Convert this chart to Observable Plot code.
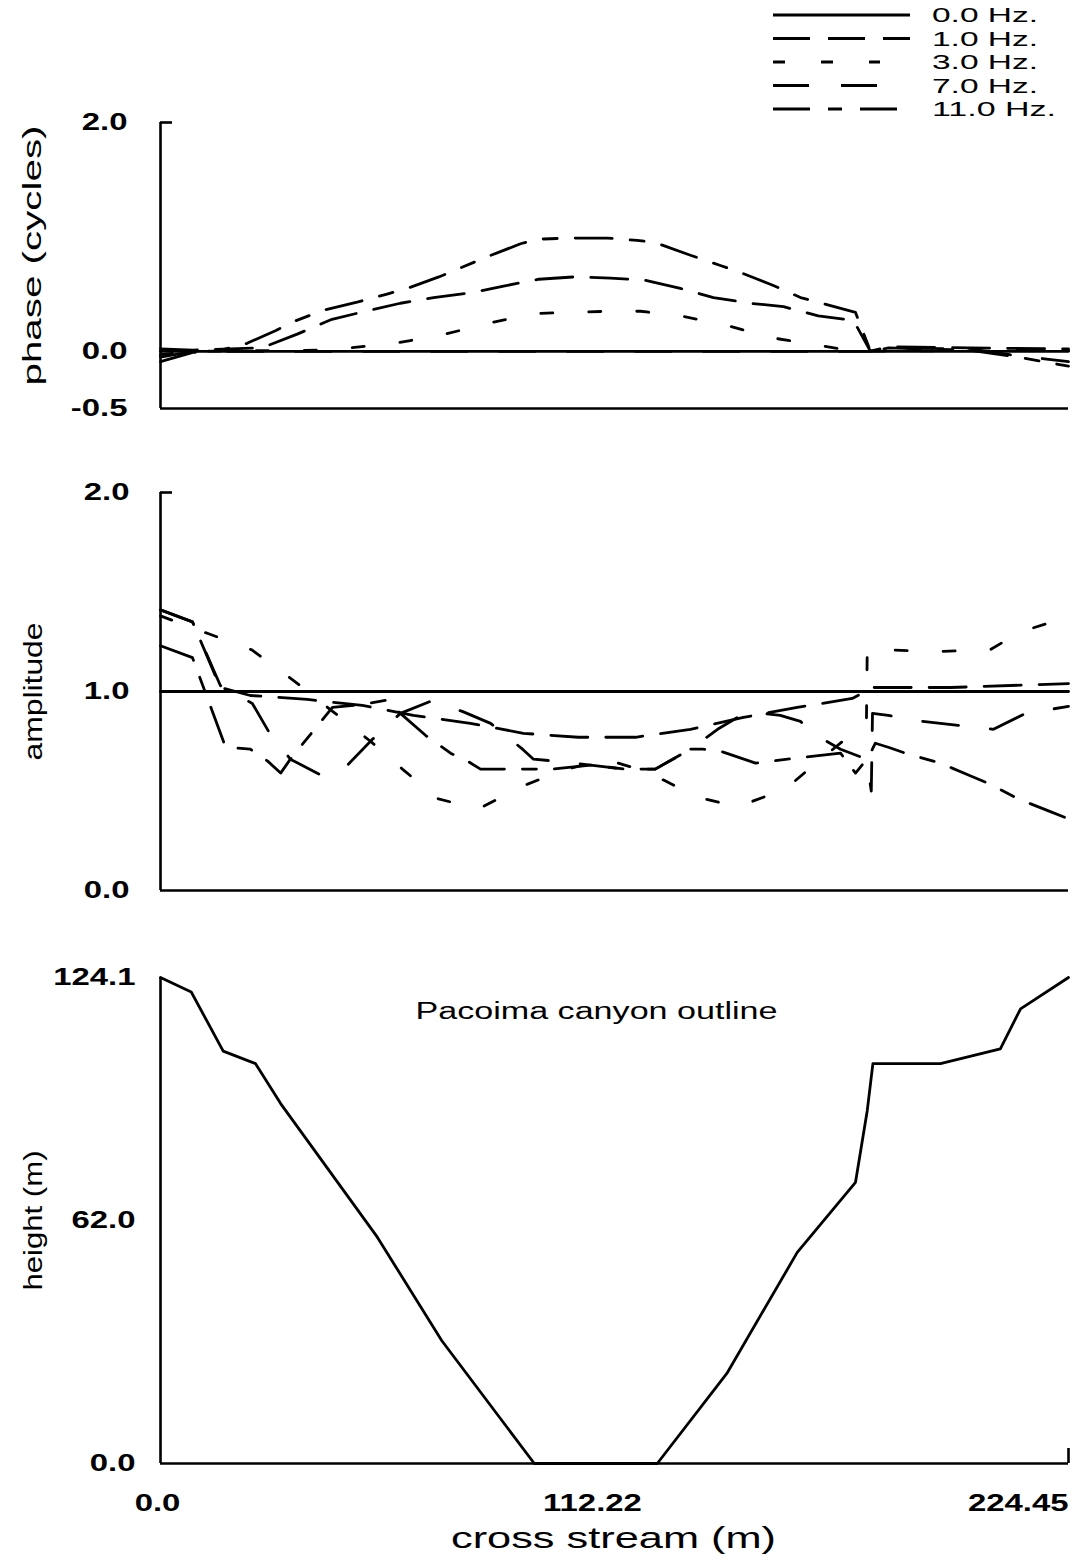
<!DOCTYPE html>
<html><head><meta charset="utf-8">
<script src="https://cdn.jsdelivr.net/npm/d3@7"></script>
<script src="https://cdn.jsdelivr.net/npm/@observablehq/plot@0.6"></script>
<style>
body{margin:0;background:#fff;}
#root{position:relative;width:1072px;height:1567px;overflow:hidden;background:#fff;}
#root svg{position:absolute;left:0;}
</style></head><body><div id="root"></div>
<script>
// ---------- data ----------
const xDomain = [0, 224.45];
const xTicks = [0, 112.22, 224.45];
const phaseTicks = [2.0, 0.0, -0.5];
const ampTicks = [2.0, 1.0, 0.0];
const heightTicks = [124.1, 62.0, 0.0];
const freqs = ["0.0 Hz.", "1.0 Hz.", "3.0 Hz.", "7.0 Hz.", "11.0 Hz."];

// phase (cycles) vs cross stream (m)
const phase0 = [[0,0],[224.45,0]];
const phase1 = [[0,0.02],[8,0.01],[25,0.03],[33.8,0.15],[42.4,0.28],[50.7,0.35],[59.3,0.42],[67.5,0.47],[76.6,0.51],[84.8,0.57],[93.5,0.63],[102.2,0.65],[111.2,0.64],[119.9,0.62],[128.5,0.55],[136.7,0.47],[145.8,0.42],[154,0.39],[162.6,0.31],[171.3,0.27],[175.5,0.0],[180,0.04],[200,0.03],[224.45,0.02]];
const phase3 = [[0,-0.03],[8,0],[40,0.01],[47,0.03],[58,0.07],[70.4,0.15],[81.6,0.25],[92.7,0.33],[101,0.34],[111,0.35],[118.6,0.35],[128.5,0.31],[139.6,0.23],[150.8,0.12],[163,0.05],[172,0.0],[224.45,0.01]];
const phase7 = [[0,-0.09],[8,-0.01],[15,0],[175,0],[180,0.03],[200,0.02],[210,-0.03],[224.45,-0.09]];
const phase11 = [[0,-0.05],[8,0],[15,0.01],[21.4,0.07],[28.4,0.18],[32.9,0.26],[40.3,0.36],[48.6,0.43],[56,0.5],[61,0.55],[68.8,0.65],[80.3,0.82],[89,0.94],[93.1,0.98],[101.3,0.99],[110.4,0.99],[117.8,0.97],[122.3,0.95],[131,0.84],[138.4,0.75],[142.5,0.7],[151.2,0.58],[158.2,0.47],[171.8,0.34],[175.5,0],[180,0.03],[200,0.01],[212,-0.05],[224.45,-0.13]];

// amplitude vs cross stream (m)
const amp0 = [[0,1],[224.45,1]];
const amp1 = [[0,1.41],[7.9,1.35],[14.8,1.02],[22.2,0.98],[36.3,0.96],[49.9,0.93],[62.5,0.88],[76.6,0.84],[89.7,0.79],[103.3,0.77],[117.4,0.77],[131,0.81],[144.1,0.87],[157.4,0.92],[171,0.965],[174.2,1.0],[175.5,1.02],[195.3,1.02],[224.45,1.04]];
const amp3 = [[0,1.38],[11.9,1.29],[22.5,1.21],[32.9,1.055],[51.9,0.75],[59.8,0.61],[68.7,0.46],[78.6,0.41],[90.2,0.53],[98.9,0.6],[109.7,0.66],[119.9,0.6],[132.7,0.47],[142.6,0.42],[154.5,0.51],[162.6,0.65],[172.3,0.81],[174.5,0.85],[174.7,1.21],[179.2,1.21],[191.1,1.2],[205.1,1.21],[212.6,1.3],[220.5,1.35],[224.45,1.37]];
const amp7 = [[0,1.41],[7.9,1.35],[14.8,1.03],[22.7,0.94],[26.7,0.8],[32.1,0.66],[39.6,0.58],[46.2,0.63],[52.4,0.76],[59.3,0.89],[66.7,0.95],[74.6,0.9],[81.6,0.84],[89.5,0.71],[92.2,0.66],[97.6,0.65],[106.3,0.63],[114.9,0.61],[122.3,0.61],[131,0.71],[137.7,0.81],[145.1,0.9],[153.2,0.88],[158.2,0.85],[161.2,0.79],[168.1,0.71],[174.5,0.66],[175.7,0.5],[176,0.89],[179.9,0.88],[188.3,0.85],[197.2,0.83],[205.9,0.81],[213.8,0.89],[224.45,0.925]];
const amp11 = [[0,1.23],[7.9,1.17],[16.1,0.72],[22.2,0.71],[26.5,0.65],[29.7,0.59],[32.1,0.66],[35.3,0.74],[42.5,0.92],[49.9,0.935],[55.6,0.955],[59.3,0.89],[65.5,0.78],[71.7,0.69],[75.9,0.65],[79.1,0.61],[84,0.61],[91.9,0.61],[96.9,0.61],[106.3,0.63],[114.9,0.61],[122.3,0.61],[131,0.71],[134,0.71],[138.4,0.7],[147.1,0.64],[155,0.66],[168.1,0.69],[171.8,0.59],[175,0.67],[176.7,0.74],[179.9,0.72],[184.1,0.69],[192.8,0.64],[199.7,0.58],[204.4,0.54],[212.1,0.46],[219.5,0.4],[224.45,0.36]];

// Pacoima canyon outline: [cross stream (m), height (m)]
const canyon = [[0,124.1],[7.6,120.4],[15.5,105.3],[23.5,102.1],[29.7,91.9],[53.6,57.8],[69.5,31.4],[92.4,0],[122.8,0],[140,23],[157.4,53.9],[171.8,71.8],[174.7,90.1],[176.1,102.1],[192.8,102.1],[207.6,105.9],[212.6,116.1],[224.45,124.1]];

const phaseSeries = [phase0, phase1, phase3, phase7, phase11];
const ampSeries = [amp0, amp1, amp3, amp7, amp11];

// ---------- styles ----------
const dashes = ["none", "37,18", "12,36", "36,32", "37,18,14,18"];
const FONT = "Liberation Sans, Arial, Helvetica, sans-serif";
const LW = 2.8, AW = 2.6;
const style = {fontFamily: FONT, background: "transparent", overflow: "visible", color: "black"};
const fmt1 = d => d.toFixed(1);

function seriesMarks(list) {
  return list.map((s, i) => Plot.line(s, {x: d => d[0], y: d => d[1], stroke: "black", strokeWidth: LW, strokeDasharray: dashes[i]}));
}

const root = document.getElementById("root");
function place(svg, top) { svg.style.top = top + "px"; root.appendChild(svg); }

// ---------- panel 1 : phase ----------
const p1 = Plot.plot({
  width: 1072, height: 430, marginTop: 122, marginBottom: 22, marginLeft: 160, marginRight: 4,
  style,
  x: {domain: xDomain, axis: null},
  y: {domain: [-0.5, 2.0], axis: null},
  marks: [
    Plot.axisY(phaseTicks, {tickSize: 0, tickPadding: 33, tickFormat: fmt1, fontSize: 23, fontWeight: "bold", label: null}),
    Plot.axisY([2.0], {tickSize: -12, tickFormat: () => "", strokeWidth: AW, label: null}),
    Plot.ruleX([0], {strokeWidth: AW}),
    Plot.ruleY([-0.5], {strokeWidth: AW}),
    Plot.text(["phase (cycles)"], {frameAnchor: "left", rotate: -90, textAnchor: "start", dx: -128, dy: 120, fontSize: 25}),
    ...seriesMarks(phaseSeries)
  ]
});
place(p1, 0);

// ---------- panel 2 : amplitude ----------
const p2 = Plot.plot({
  width: 1072, height: 480, marginTop: 62, marginBottom: 20, marginLeft: 160, marginRight: 4,
  style,
  x: {domain: xDomain, axis: null},
  y: {domain: [0, 2.0], axis: null},
  marks: [
    Plot.axisY(ampTicks, {tickSize: 0, tickPadding: 31, tickFormat: fmt1, fontSize: 23, fontWeight: "bold", label: null}),
    Plot.axisY([2.0], {tickSize: -12, tickFormat: () => "", strokeWidth: AW, label: null}),
    Plot.ruleX([0], {strokeWidth: AW}),
    Plot.ruleY([0], {strokeWidth: AW}),
    Plot.text(["amplitude"], {frameAnchor: "left", rotate: -90, textAnchor: "start", dx: -127, dy: 69, fontSize: 25}),
    ...seriesMarks(ampSeries)
  ]
});
place(p2, 430);

// ---------- panel 3 : canyon outline ----------
const p3 = Plot.plot({
  width: 1072, height: 657, marginTop: 67, marginBottom: 104, marginLeft: 160, marginRight: 4,
  style,
  x: {domain: xDomain, axis: null},
  y: {domain: [0, 124.1], axis: null},
  marks: [
    Plot.axisY(heightTicks, {tickSize: 0, tickPadding: 25, tickFormat: fmt1, fontSize: 23, fontWeight: "bold", label: null}),
    Plot.axisX([xTicks[0]], {tickSize: 0, tickPadding: 31, tickFormat: fmt1, fontSize: 23, fontWeight: "bold", dx: -3, label: null}),
    Plot.axisX([xTicks[1]], {tickSize: 0, tickPadding: 31, tickFormat: d => d.toFixed(2), fontSize: 23, fontWeight: "bold", dx: -22, label: null}),
    Plot.axisX([xTicks[2]], {tickSize: 0, tickPadding: 31, tickFormat: d => d.toFixed(2), fontSize: 23, fontWeight: "bold", textAnchor: "end", dx: 0, label: null}),
    Plot.axisX([xTicks[2]], {tickSize: -15, tickFormat: () => "", strokeWidth: AW, label: null}),
    Plot.ruleX([0], {strokeWidth: AW}),
    Plot.ruleY([0], {strokeWidth: AW}),
    Plot.text(["height (m)"], {frameAnchor: "left", rotate: -90, textAnchor: "start", dx: -127, dy: 70, fontSize: 25}),
    Plot.text(["Pacoima canyon outline"], {frameAnchor: "top", dx: -18, dy: 25, fontSize: 23}),
    Plot.text(["cross stream (m)"], {frameAnchor: "bottom", dx: -1, dy: 84, fontSize: 30}),
    Plot.line(canyon, {x: d => d[0], y: d => d[1], stroke: "black", strokeWidth: LW})
  ]
});
place(p3, 910);

// ---------- legend ----------
const legendY = [15, 38.5, 62, 85.5, 109];
const legendEnd = [910, 910, 880, 877, 898];
const leg = d3.create("svg").attr("width", 1072).attr("height", 125).style("top", "0px");
freqs.forEach((f, i) => {
  leg.append("line").attr("x1", 773).attr("x2", legendEnd[i]).attr("y1", legendY[i]).attr("y2", legendY[i])
    .attr("stroke", "black").attr("stroke-width", LW).attr("stroke-dasharray", dashes[i]);
  leg.append("text").attr("x", 932).attr("y", legendY[i]).attr("dy", "0.36em")
    .attr("font-family", FONT).attr("font-size", 20).text(f);
});
root.appendChild(leg.node());

// ---------- widen lettering like the original plotter font ----------
const targets = {"phase (cycles)": 260, "amplitude": 138, "height (m)": 140, "cross stream (m)": 325, "Pacoima canyon outline": 362,
                 "0.0 Hz.": 106, "1.0 Hz.": 106, "3.0 Hz.": 106, "7.0 Hz.": 106, "11.0 Hz.": 124};
root.querySelectorAll("text").forEach(t => {
  const s = t.textContent.trim();
  if (!s) return;
  const L = t.getComputedTextLength();
  if (!(L > 0)) return;
  const target = targets[s] !== undefined ? targets[s] : L * 1.43;
  t.setAttribute("textLength", target);
  t.setAttribute("lengthAdjust", "spacingAndGlyphs");
});
</script></body></html>
